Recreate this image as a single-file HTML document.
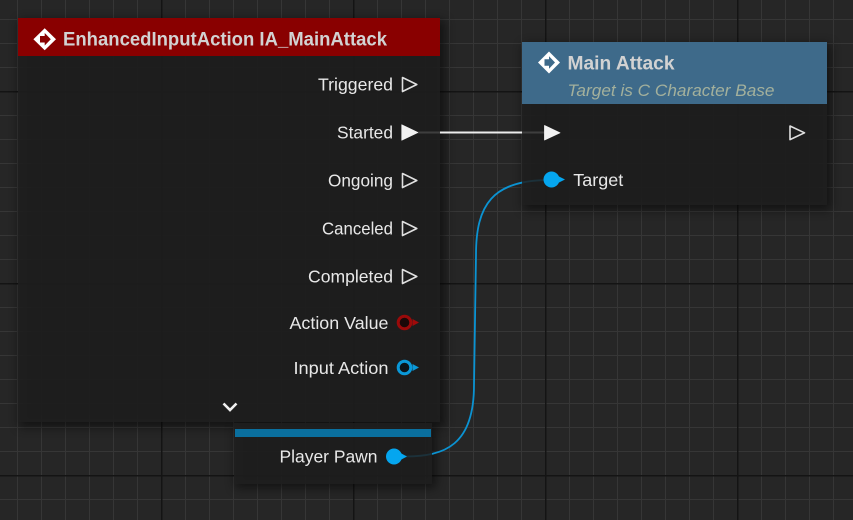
<!DOCTYPE html>
<html><head><meta charset="utf-8">
<style>
html,body{margin:0;padding:0;background:#262626;}
svg{display:block;}
text{font-family:"Liberation Sans",sans-serif;}
</style></head>
<body>
<svg width="853" height="520" viewBox="0 0 853 520" xmlns="http://www.w3.org/2000/svg">
<defs>
  <pattern id="g" x="17" y="19" width="24" height="24" patternUnits="userSpaceOnUse">
    <rect width="24" height="24" fill="#262626"/>
    <rect x="0" y="0" width="1" height="24" fill="#363636"/>
    <rect x="0" y="0" width="24" height="1" fill="#363636"/>
  </pattern>
  <filter id="sh" x="-20%" y="-20%" width="140%" height="140%"><feGaussianBlur stdDeviation="5"/></filter>
</defs>
<rect width="853" height="520" fill="url(#g)"/>
<!-- major grid lines -->
<g fill="#141414">
  <rect x="161" y="0" width="1.5" height="520"/>
  <rect x="353" y="0" width="1.5" height="520"/>
  <rect x="545" y="0" width="1.5" height="520"/>
  <rect x="737" y="0" width="1.5" height="520"/>
  <rect x="0" y="91" width="853" height="1.5"/>
  <rect x="0" y="283" width="853" height="1.5"/>
  <rect x="0" y="475" width="853" height="1.5"/>
</g>

<!-- shadows -->
<rect x="19" y="20" width="426" height="407" fill="#000" opacity="0.5" filter="url(#sh)"/>
<rect x="523" y="44" width="308" height="166" fill="#000" opacity="0.5" filter="url(#sh)"/>
<rect x="235" y="425" width="201" height="63" fill="#000" opacity="0.5" filter="url(#sh)"/>

<!-- wires -->
<line x1="418" y1="132.5" x2="548" y2="132.5" stroke="#ececec" stroke-width="2"/>
<path d="M 405 456.5 C 445 456.5, 474 445, 474 385 L 476 255 C 476 205, 492 180, 550 180" fill="none" stroke="#0b93d2" stroke-width="1.8"/>

<!-- Node 1 -->
<rect x="18" y="56" width="422" height="366" fill="rgb(32,32,32)" fill-opacity="0.85"/>
<rect x="18" y="18" width="422" height="38" fill="#890000"/>
<polygon points="44.7,28.3 56,39.2 44.7,50.2 33.4,39.2" fill="#ffffff"/>
<polygon points="44.7,33 50.8,39.2 44.7,45.5 44.7,42.5 40,42.5 40,36 44.7,36" fill="#890000"/>
<text x="63" y="45.5" font-size="19" font-weight="bold" fill="#d2d2d2" textLength="324" lengthAdjust="spacingAndGlyphs">EnhancedInputAction IA_MainAttack</text>

<g font-size="17.5" fill="#e8e8e8" text-anchor="end" lengthAdjust="spacingAndGlyphs">
  <text x="393" y="90.7" textLength="75" lengthAdjust="spacingAndGlyphs">Triggered</text>
  <text x="393" y="138.7" textLength="56" lengthAdjust="spacingAndGlyphs">Started</text>
  <text x="393" y="186.7" textLength="65" lengthAdjust="spacingAndGlyphs">Ongoing</text>
  <text x="393" y="234.7" textLength="71" lengthAdjust="spacingAndGlyphs">Canceled</text>
  <text x="393" y="282.7" textLength="85" lengthAdjust="spacingAndGlyphs">Completed</text>
  <text x="388.5" y="329" textLength="99" lengthAdjust="spacingAndGlyphs">Action Value</text>
  <text x="388.5" y="374" textLength="95" lengthAdjust="spacingAndGlyphs">Input Action</text>
</g>
<g stroke="#e0e0e0" stroke-width="1.6" fill="none" stroke-linejoin="round">
  <polygon points="402.5,77.5 416.8,84.5 402.5,91.5"/>
  <polygon points="402.5,173.5 416.8,180.5 402.5,187.5"/>
  <polygon points="402.5,221.5 416.8,228.5 402.5,235.5"/>
  <polygon points="402.5,269.5 416.8,276.5 402.5,283.5"/>
</g>
<polygon points="401.8,124.8 417.8,132.5 401.8,140.2" fill="#f2f2f2" stroke="#f2f2f2" stroke-width="0.8" stroke-linejoin="round"/>
<!-- Action Value pin -->
<circle cx="404.5" cy="322.5" r="6.3" fill="#1a0808" stroke="#9a0a0a" stroke-width="3"/>
<polygon points="412.5,319 419,322.5 412.5,326" fill="#a00a0a"/>
<!-- Input Action pin -->
<circle cx="404.5" cy="367.5" r="6.3" fill="#0a141a" stroke="#0a98d8" stroke-width="3"/>
<polygon points="412.5,364 419,367.5 412.5,371" fill="#0a98d8"/>
<!-- chevron -->
<polyline points="223.5,403.5 230,410 236.5,403.5" fill="none" stroke="#f0f0f0" stroke-width="2.6"/>

<!-- Player Pawn node -->
<rect x="234" y="423" width="198" height="61" fill="rgb(32,32,32)" fill-opacity="0.85"/>
<rect x="235" y="429" width="196" height="8" fill="#0a6f9e"/>
<text x="377.5" y="462.7" font-size="17.5" fill="#e8e8e8" text-anchor="end" textLength="98" lengthAdjust="spacingAndGlyphs">Player Pawn</text>
<circle cx="394" cy="456.5" r="8" fill="#05a6ef"/>
<polygon points="400.5,453 407,456.5 400.5,460" fill="#05a6ef"/>

<!-- Node 2 -->
<rect x="522" y="104" width="305" height="101" fill="rgb(32,32,32)" fill-opacity="0.85"/>
<rect x="522" y="42" width="305" height="62" fill="#3e6a8a"/>
<polygon points="549,51.5 560,62.5 549,73.5 538,62.5" fill="#ffffff"/>
<polygon points="549,56.3 555,62.5 549,68.7 549,65.8 544.5,65.8 544.5,59.3 549,59.3" fill="#3e6a8a"/>
<text x="567.5" y="69.5" font-size="19" font-weight="bold" fill="#d2d2d2" textLength="107" lengthAdjust="spacingAndGlyphs">Main Attack</text>
<text x="567.5" y="96" font-size="17" font-style="italic" fill="#a3b09c" textLength="207" lengthAdjust="spacingAndGlyphs">Target is C Character Base</text>
<polygon points="544.5,125.5 560,132.8 544.5,140" fill="#f2f2f2" stroke="#f2f2f2" stroke-width="0.8" stroke-linejoin="round"/>
<polygon points="790,126 804.5,132.8 790,139.6" fill="none" stroke="#e0e0e0" stroke-width="1.6" stroke-linejoin="round"/>
<circle cx="551.5" cy="179.5" r="8" fill="#05a6ef"/>
<polygon points="558,176 565,179.5 558,183" fill="#05a6ef"/>
<text x="573.3" y="186" font-size="17.5" fill="#e8e8e8" textLength="50" lengthAdjust="spacingAndGlyphs">Target</text>
</svg>
</body></html>
